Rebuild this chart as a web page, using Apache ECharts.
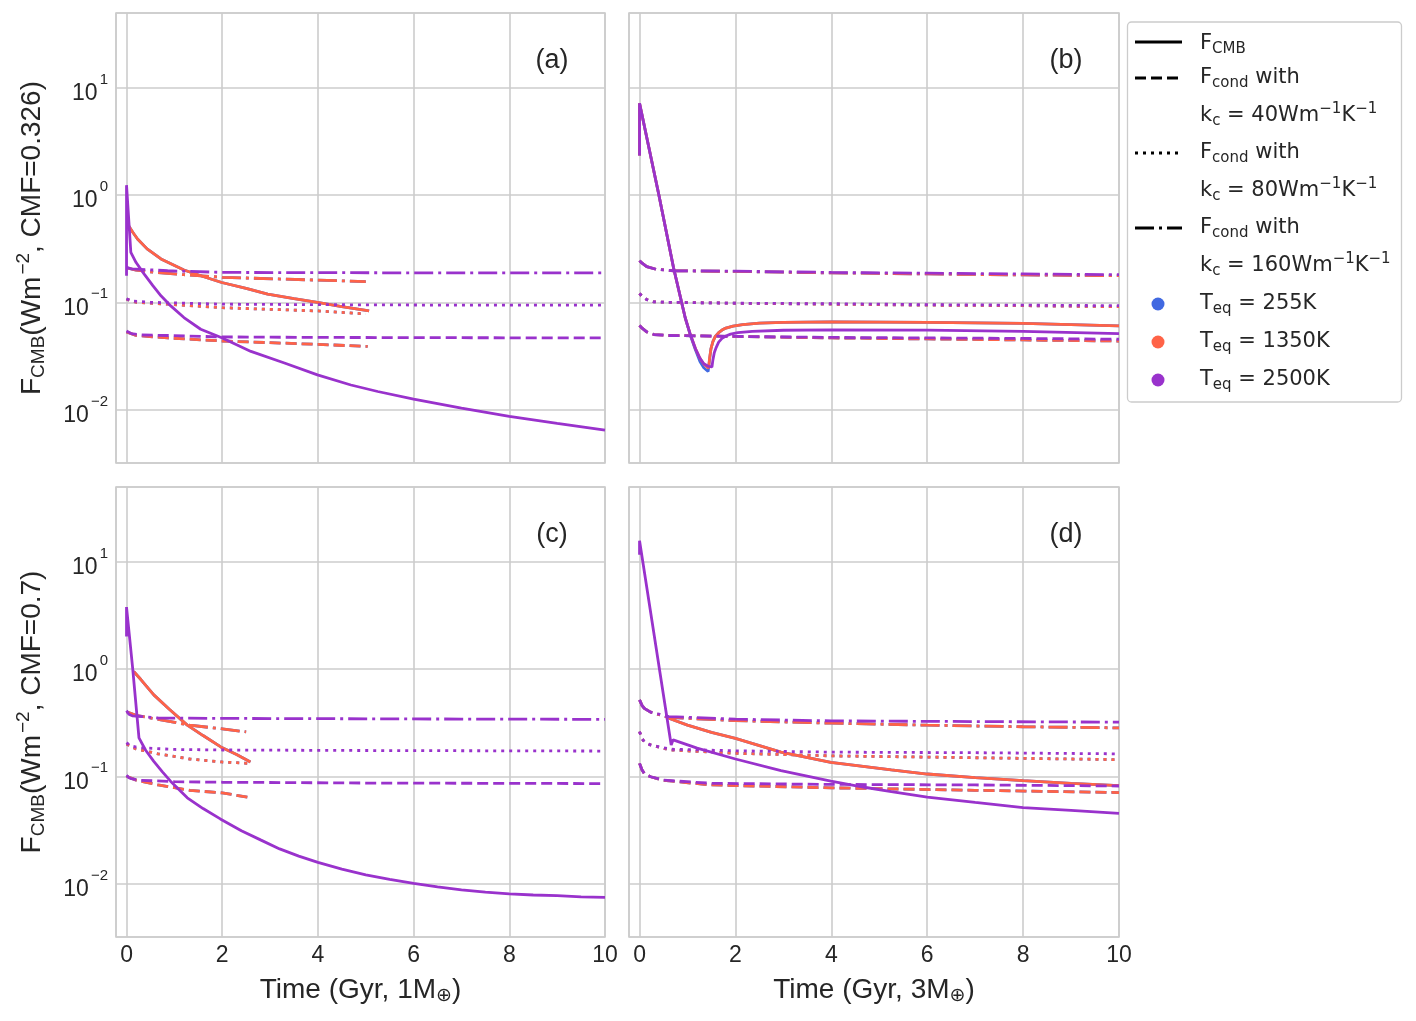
<!DOCTYPE html>
<html>
<head>
<meta charset="utf-8">
<script src="https://cdn.jsdelivr.net/npm/echarts@6/dist/echarts.min.js"></script>
<style>
  html, body { margin: 0; padding: 0; background: #fff; }
  #chart { width: 1416px; height: 1021px; }
</style>
</head>
<body>
<div id="chart"></div>
<script>
// time (Gyr) vs flux (W m^-2)
// (a) 1 M_earth, CMF = 0.326
const a_2500_cmb = [[0,0.177],[0,1.24],[0.09,0.293],[0.2,0.235],[0.37,0.183],[0.55,0.143],[0.72,0.115],[0.93,0.092],[1.2,0.072],[1.55,0.056],[1.99,0.0466],[2.6,0.0348],[3.3,0.0271],[3.99,0.021],[4.69,0.0169],[5.25,0.0147],[6,0.0125],[7,0.0103],[8,0.0086],[9,0.0074],[10,0.0064]];
const a_1350_cmb = [[0.04,0.52],[0.13,0.45],[0.23,0.39],[0.43,0.315],[0.72,0.254],[1.2,0.2],[1.6,0.174],[1.99,0.153],[2.5,0.135],[2.95,0.119],[3.5,0.108],[3.99,0.1],[4.5,0.091],[5.07,0.083]];
const a_2500_k40 = [[0,0.054],[0.1,0.051],[0.3,0.0495],[0.86,0.049],[2,0.0475],[4,0.047],[7,0.0467],[10,0.0465]];
const a_1350_k40 = [[0,0.053],[0.2,0.049],[0.86,0.0465],[2,0.0435],[4,0.0405],[5.04,0.0387]];
const a_2500_k80 = [[0,0.108],[0.1,0.103],[0.5,0.1],[2,0.096],[4,0.095],[7,0.094],[10,0.094]];
const a_1350_k80 = [[0,0.107],[0.2,0.1],[0.86,0.096],[2,0.089],[4,0.083],[5,0.078]];
const a_2500_k160 = [[0,0.212],[0.1,0.205],[0.86,0.197],[2,0.19],[4,0.189],[7,0.188],[10,0.188]];
const a_1350_k160 = [[0,0.21],[0.2,0.2],[0.6,0.19],[1.2,0.181],[2,0.171],[4,0.161],[5,0.156]];

// (b) 3 M_earth, CMF = 0.326
const b_2500_cmb = [[0,2.34],[0,7.2],[0.4,1.02],[0.71,0.209],[0.955,0.071],[1.06,0.05],[1.165,0.037],[1.26,0.03],[1.34,0.0267],[1.44,0.0252],[1.51,0.0249],[1.53,0.029],[1.56,0.034],[1.6,0.038],[1.65,0.0425],[1.72,0.046],[1.8,0.0485],[1.9,0.0505],[2.05,0.052],[2.35,0.0535],[3,0.0548],[4,0.0552],[6,0.055],[8,0.0535],[10,0.051]];
const b_1350_cmb = [[0,2.34],[0,7.2],[0.4,1.02],[0.71,0.209],[0.955,0.071],[1.06,0.05],[1.165,0.037],[1.26,0.03],[1.34,0.0265],[1.44,0.0243],[1.46,0.03],[1.49,0.037],[1.53,0.043],[1.58,0.048],[1.65,0.052],[1.72,0.055],[1.8,0.0575],[1.95,0.06],[2.15,0.062],[2.5,0.0638],[3,0.065],[4,0.0655],[6,0.065],[8,0.0635],[10,0.0603]];
const b_255_cmb = [[0,2.34],[0,7.2],[0.4,1.02],[0.71,0.209],[0.955,0.071],[1.06,0.049],[1.165,0.036],[1.26,0.028],[1.34,0.0245],[1.43,0.0226],[1.46,0.029],[1.49,0.037],[1.53,0.043],[1.58,0.048],[1.65,0.052],[1.72,0.055],[1.8,0.0575],[1.95,0.06],[2.15,0.062],[2.5,0.0638],[3,0.065],[4,0.0655],[6,0.065],[8,0.0635],[10,0.0603]];
const b_2500_k40 = [[0,0.061],[0.04,0.058],[0.08,0.056],[0.15,0.053],[0.3,0.05],[0.6,0.049],[2,0.048],[4,0.047],[6,0.0465],[8,0.046],[10,0.0452]];
const b_1350_k40 = [[0,0.061],[0.04,0.058],[0.08,0.056],[0.15,0.053],[0.3,0.05],[0.6,0.049],[2,0.048],[4,0.0465],[6,0.0455],[8,0.0445],[10,0.0435]];
const b_2500_k80 = [[0,0.121],[0.04,0.115],[0.08,0.111],[0.15,0.106],[0.3,0.101],[0.6,0.1],[2,0.098],[4,0.097],[6,0.095],[8,0.094],[10,0.093]];
const b_1350_k80 = [[0,0.121],[0.04,0.115],[0.08,0.111],[0.15,0.106],[0.3,0.101],[0.6,0.1],[2,0.098],[4,0.096],[6,0.094],[8,0.093],[10,0.091]];
const b_2500_k160 = [[0,0.245],[0.04,0.234],[0.08,0.225],[0.15,0.215],[0.35,0.203],[0.71,0.197],[2,0.195],[4,0.19],[6,0.187],[8,0.184],[10,0.181]];
const b_1350_k160 = [[0,0.245],[0.04,0.234],[0.08,0.225],[0.15,0.215],[0.35,0.203],[0.71,0.197],[2,0.194],[4,0.188],[6,0.184],[8,0.18],[10,0.177]];

// (c) 1 M_earth, CMF = 0.7
const c_2500_cmb = [[0,2.02],[0,3.8],[0.13,1.0],[0.26,0.228],[0.4,0.175],[0.57,0.138],[0.75,0.11],[0.92,0.09],[1.1,0.075],[1.27,0.063],[1.6,0.05],[1.96,0.04],[2.4,0.031],[2.8,0.0255],[3.2,0.021],[3.6,0.018],[4,0.0157],[4.5,0.0136],[5,0.012],[5.5,0.0109],[6,0.01],[6.5,0.0093],[7,0.0087],[7.5,0.0083],[8,0.008],[8.5,0.0078],[9,0.0077],[9.5,0.0075],[10,0.0074]];
const c_1350_cmb = [[0.15,0.95],[0.3,0.8],[0.57,0.575],[0.9,0.42],[1.27,0.3],[1.6,0.24],[1.97,0.188],[2.3,0.16],[2.59,0.136]];
const c_2500_k40 = [[0,0.102],[0.05,0.097],[0.1,0.095],[0.25,0.092],[1,0.089],[2,0.088],[5,0.0865],[10,0.0855]];
const c_1350_k40 = [[0,0.1],[0.2,0.092],[0.66,0.083],[1.32,0.074],[2,0.07],[2.55,0.0635]];
const c_2500_k80 = [[0,0.206],[0.05,0.197],[0.1,0.192],[0.25,0.185],[1,0.178],[2,0.176],[5,0.174],[10,0.172]];
const c_1350_k80 = [[0,0.2],[0.2,0.18],[0.66,0.162],[1.32,0.145],[2,0.136],[2.55,0.132]];
const c_2500_k160 = [[0,0.41],[0.05,0.38],[0.12,0.367],[0.66,0.35],[2,0.347],[4,0.345],[7,0.342],[10,0.34]];
const c_1350_k160 = [[0,0.4],[0.2,0.37],[0.66,0.34],[1.32,0.3],[2,0.277],[2.5,0.26]];

// (d) 3 M_earth, CMF = 0.7
const d_2500_cmb = [[0,11.7],[0,15.8],[0.66,0.196],[0.7,0.219],[1.2,0.183],[2,0.145],[2.95,0.113],[3.99,0.09],[4.69,0.079],[5.25,0.072],[6,0.064],[7,0.057],[8,0.051],[9,0.048],[10,0.045]];
const d_1350_cmb = [[0.61,0.348],[1,0.3],[1.5,0.257],[2,0.226],[2.95,0.168],[3.99,0.135],[5.25,0.115],[6,0.105],[7,0.097],[8,0.091],[9,0.086],[10,0.0818]];
const d_2500_k40 = [[0,0.132],[0.05,0.115],[0.1,0.106],[0.23,0.099],[0.5,0.092],[1.5,0.086],[4,0.084],[7,0.083],[10,0.0812]];
const d_1350_k40 = [[0,0.132],[0.05,0.115],[0.1,0.106],[0.23,0.099],[0.5,0.0915],[1.5,0.083],[4,0.078],[7,0.074],[10,0.0705]];
const d_2500_k80 = [[0,0.261],[0.05,0.225],[0.1,0.21],[0.23,0.196],[0.64,0.179],[2,0.173],[4,0.168],[7,0.166],[10,0.162]];
const d_1350_k80 = [[0,0.261],[0.05,0.225],[0.1,0.21],[0.23,0.196],[0.64,0.176],[2,0.164],[4,0.155],[7,0.149],[10,0.143]];
const d_2500_k160 = [[0,0.517],[0.05,0.46],[0.1,0.43],[0.23,0.397],[0.61,0.361],[2,0.341],[4,0.329],[7,0.324],[10,0.32]];
const d_1350_k160 = [[0,0.517],[0.05,0.46],[0.1,0.43],[0.23,0.397],[0.61,0.354],[2,0.331],[4,0.313],[6,0.3],[8,0.29],[10,0.283]];

// 255 K runs sit under the 1350 K ones almost everywhere
const a_255 = [a_1350_cmb, a_1350_k40, a_1350_k80, a_1350_k160];
const b_255 = [b_255_cmb, b_1350_k40, b_1350_k80, b_1350_k160];
const c_255 = [c_1350_cmb, c_1350_k40, c_1350_k80, c_1350_k160];
const d_255 = [d_1350_cmb, d_1350_k40, d_1350_k80, d_1350_k160];

const xTicks = [0, 2, 4, 6, 8, 10];
const panelLabels = ['(a)', '(b)', '(c)', '(d)'];
const tempLabels = ['255K', '1350K', '2500K'];
const kcLabels = ['40', '80', '160'];

const colors = ['#4169E1', '#FF6347', '#9932CC'];
const dashes = ['solid', [11, 5], [3, 5], [19, 5, 3, 5]];

const textColor = '#262626';
const gridColor = '#cccccc';
const sansFont = '"Liberation Sans", Arial, sans-serif';
const mathFont = '"DejaVu Sans", sans-serif';

const chart = echarts.init(document.getElementById('chart'));

const grids = [
    { left: 116, top: 13, width: 489, height: 450 },
    { left: 629, top: 13, width: 490, height: 450 },
    { left: 116, top: 487, width: 489, height: 450 },
    { left: 629, top: 487, width: 490, height: 450 }
].map(g => Object.assign(g, { show: true, borderColor: gridColor, borderWidth: 1.6, containLabel: false }));

const splitLine = { show: true, lineStyle: { color: gridColor, width: 1.6 } };

const xAxes = grids.map((g, i) => ({
    type: 'value', gridIndex: i, min: -0.22, max: 10,
    axisLine: { show: false }, axisTick: { show: false }, splitLine,
    axisLabel: {
        show: i >= 2, margin: 7, color: textColor, fontFamily: sansFont, fontSize: 23,
        formatter: v => xTicks.indexOf(Math.round(v * 100) / 100) >= 0 ? String(v) : ''
    },
    name: i >= 2 ? (i === 2 ? 'Time (Gyr, 1M{s|⊕})' : 'Time (Gyr, 3M{s|⊕})') : '',
    nameLocation: 'middle', nameGap: 38,
    nameTextStyle: {
        color: textColor, fontFamily: sansFont, fontSize: 28,
        rich: { s: { fontFamily: mathFont, fontSize: 19, color: textColor, padding: [12, 0, 0, 0] } }
    }
}));

const sup = s => s.replace('-', '\u2212');
const yAxes = grids.map((g, i) => ({
    type: 'log', logBase: 10, gridIndex: i, min: Math.pow(10, -2.5), max: Math.pow(10, 1.7),
    axisLine: { show: false }, axisTick: { show: false }, splitLine,
    axisLabel: {
        show: i % 2 === 0, margin: 8, color: textColor, fontFamily: sansFont,
        formatter: v => {
            const e = Math.log10(v);
            const r = Math.round(e);
            if (Math.abs(e - r) > 1e-6) return '';
            return '{n|10}{s|' + sup(String(r)) + '}';
        },
        rich: {
            n: { fontSize: 23, fontFamily: sansFont, color: textColor, padding: [12, 0, 0, 0] },
            s: { fontSize: 15, fontFamily: sansFont, color: textColor, padding: [0, 0, 16, 2] }
        }
    },
    name: i === 0 ? '{n|F}{b|CMB}{n|(Wm}{p|\u22122}{n|, CMF=0.326)}' : (i === 2 ? '{n|F}{b|CMB}{n|(Wm}{p|\u22122}{n|, CMF=0.7)}' : ''),
    nameLocation: 'middle', nameRotate: 90, nameGap: 66,
    nameTextStyle: {
        rich: {
            n: { fontSize: 28, fontFamily: sansFont, color: textColor },
            b: { fontSize: 19, fontFamily: sansFont, color: textColor, padding: [13, 0, 0, 0] },
            p: { fontSize: 19, fontFamily: sansFont, color: textColor, padding: [0, 0, 17, 2] }
        }
    }
}));

const series = [];
function addRuns(gi, ci, runs) {
    runs.forEach((d, k) => {
        series.push({
            type: 'line', xAxisIndex: gi, yAxisIndex: gi, data: d,
            showSymbol: false, symbol: 'none', silent: true, animation: false,
            lineStyle: { color: colors[ci], width: 2.8, type: dashes[k] }
        });
    });
}
addRuns(0, 0, a_255);
addRuns(0, 1, [a_1350_cmb, a_1350_k40, a_1350_k80, a_1350_k160]);
addRuns(0, 2, [a_2500_cmb, a_2500_k40, a_2500_k80, a_2500_k160]);
addRuns(1, 0, b_255);
addRuns(1, 1, [b_1350_cmb, b_1350_k40, b_1350_k80, b_1350_k160]);
addRuns(1, 2, [b_2500_cmb, b_2500_k40, b_2500_k80, b_2500_k160]);
addRuns(2, 0, c_255);
addRuns(2, 1, [c_1350_cmb, c_1350_k40, c_1350_k80, c_1350_k160]);
addRuns(2, 2, [c_2500_cmb, c_2500_k40, c_2500_k80, c_2500_k160]);
addRuns(3, 0, d_255);
addRuns(3, 1, [d_1350_cmb, d_1350_k40, d_1350_k80, d_1350_k160]);
addRuns(3, 2, [d_2500_cmb, d_2500_k40, d_2500_k80, d_2500_k160]);

// panel tags
const graphics = panelLabels.map((t, i) => ({
    type: 'text',
    x: (i % 2 === 0 ? 552 : 1066), y: (i < 2 ? 61 : 535),
    style: { text: t, fill: textColor, font: '27px ' + sansFont, align: 'center', verticalAlign: 'middle' }
}));

// legend box, drawn by hand to match the multi-line entries
const legRich = {
    sub: { fontSize: 15, fontFamily: mathFont, fill: textColor, padding: [10, 0, 0, 0] },
    sp: { fontSize: 15, fontFamily: mathFont, fill: textColor, padding: [0, 0, 14, 0] }
};
const legText = (y, text) => ({
    type: 'text', x: 1200, y,
    style: { text, rich: legRich, fill: textColor, fontSize: 21, fontFamily: mathFont, align: 'left', verticalAlign: 'middle' }
});
graphics.push({
    type: 'rect', shape: { x: 1127.5, y: 22, width: 274, height: 380, r: 4 },
    style: { fill: '#fff', stroke: '#cccccc', lineWidth: 1.3 }
});
const lineRows = [42, 78, 153, 228];
lineRows.forEach((y, k) => {
    graphics.push({
        type: 'line', shape: { x1: 1135, y1: y, x2: 1182, y2: y },
        style: { stroke: '#000', lineWidth: 2.8, lineDash: dashes[k] === 'solid' ? null : dashes[k] }
    });
});
graphics.push(legText(44, 'F{sub|CMB}'));
kcLabels.forEach((kc, k) => {
    graphics.push(legText(lineRows[k + 1], 'F{sub|cond} with'));
    graphics.push(legText(lineRows[k + 1] + 38, 'k{sub|c} = ' + kc + 'Wm{sp|\u22121}K{sp|\u22121}'));
});
tempLabels.forEach((t, i) => {
    const y = 304 + i * 38;
    graphics.push({ type: 'circle', shape: { cx: 1158, cy: y, r: 6.5 }, style: { fill: colors[i] } });
    graphics.push(legText(y, 'T{sub|eq} = ' + t));
});

chart.setOption({
    backgroundColor: '#ffffff',
    animation: false,
    grid: grids,
    xAxis: xAxes,
    yAxis: yAxes,
    series,
    graphic: graphics
});
</script>
</body>
</html>
